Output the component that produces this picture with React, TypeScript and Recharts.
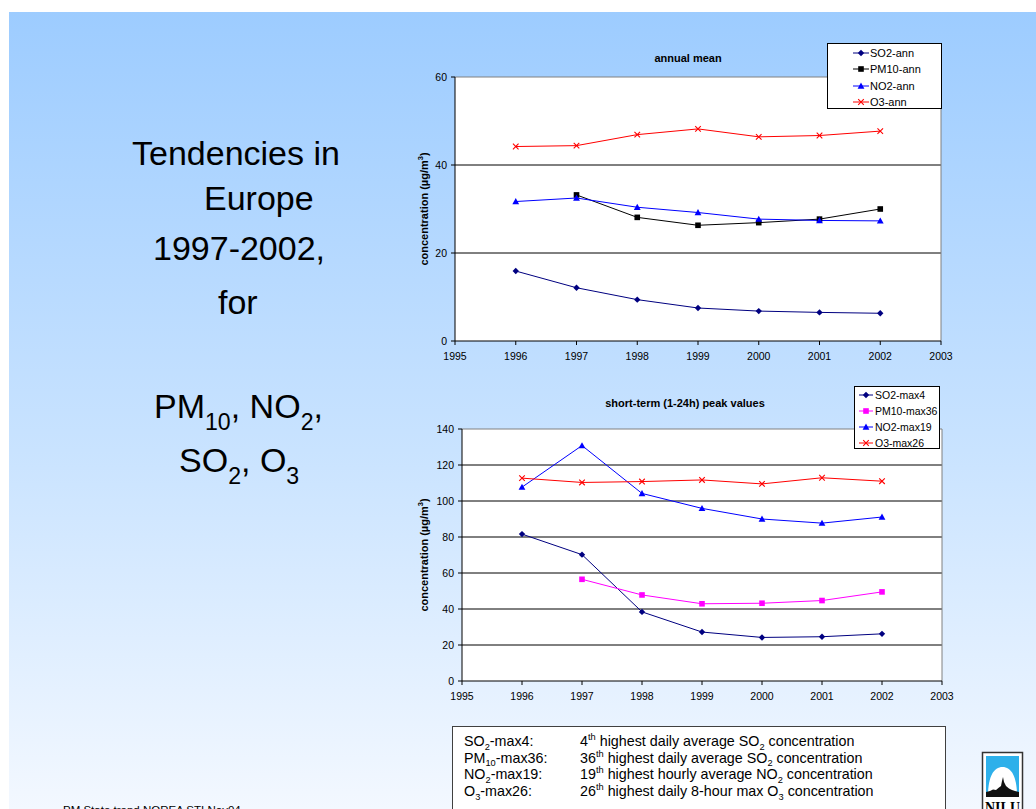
import React from 'react';
import { LineChart, Line, XAxis, YAxis, CartesianGrid, ReferenceLine, Legend } from 'recharts';

const FONT = "Arial, 'Liberation Sans', Helvetica, sans-serif";

// ---------- data ----------
const years = [1996, 1997, 1998, 1999, 2000, 2001, 2002];

const so2Ann = [15.9, 12.1, 9.4, 7.5, 6.8, 6.5, 6.3];
const pm10Ann: (number | null)[] = [null, 33.2, 28.1, 26.3, 26.9, 27.7, 30.0];
const no2Ann = [31.7, 32.5, 30.4, 29.2, 27.7, 27.4, 27.3];
const o3Ann = [44.2, 44.4, 46.9, 48.2, 46.4, 46.7, 47.7];

const so2Max4 = [81.6, 70.2, 38.4, 27.2, 24.2, 24.6, 26.2];
const pm10Max36: (number | null)[] = [null, 56.5, 47.8, 42.9, 43.2, 44.7, 49.5];
const no2Max19 = [107.7, 130.8, 104.2, 95.9, 90.0, 87.7, 91.1];
const o3Max26 = [112.7, 110.3, 110.8, 111.7, 109.5, 112.9, 111.0];

const xTicks = [1995, 1996, 1997, 1998, 1999, 2000, 2001, 2002, 2003];
const annTicks = [0, 20, 40, 60];
const peakTicks = [0, 20, 40, 60, 80, 100, 120, 140];

const annNames = ['SO2-ann', 'PM10-ann', 'NO2-ann', 'O3-ann'];
const peakNames = ['SO2-max4', 'PM10-max36', 'NO2-max19', 'O3-max26'];

type Shape = 'diamond' | 'square' | 'triangle' | 'cross';
type SeriesDef = { key: string; name: string; color: string; shape: Shape };

const annSeries: SeriesDef[] = [
  { key: 'so2', name: annNames[0], color: '#000080', shape: 'diamond' },
  { key: 'pm10', name: annNames[1], color: '#000000', shape: 'square' },
  { key: 'no2', name: annNames[2], color: '#0000ff', shape: 'triangle' },
  { key: 'o3', name: annNames[3], color: '#ff0000', shape: 'cross' },
];
const peakSeries: SeriesDef[] = [
  { key: 'so2', name: peakNames[0], color: '#000080', shape: 'diamond' },
  { key: 'pm10', name: peakNames[1], color: '#ff00ff', shape: 'square' },
  { key: 'no2', name: peakNames[2], color: '#0000ff', shape: 'triangle' },
  { key: 'o3', name: peakNames[3], color: '#ff0000', shape: 'cross' },
];

const annData = years.map((y, i) => ({ year: y, so2: so2Ann[i], pm10: pm10Ann[i], no2: no2Ann[i], o3: o3Ann[i] }));
const peakData = years.map((y, i) => ({ year: y, so2: so2Max4[i], pm10: pm10Max36[i], no2: no2Max19[i], o3: o3Max26[i] }));

// ---------- markers ----------
function markerEl(shape: Shape, color: string, cx: number, cy: number, k?: any) {
  if (shape === 'diamond') {
    const r = 3.2;
    return <path key={k} d={`M${cx},${cy - r}L${cx + r},${cy}L${cx},${cy + r}L${cx - r},${cy}Z`} fill={color} />;
  }
  if (shape === 'square') {
    const s = 2.8;
    return <rect key={k} x={cx - s} y={cy - s} width={s * 2} height={s * 2} fill={color} />;
  }
  if (shape === 'triangle') {
    const s = 3.4;
    return <path key={k} d={`M${cx},${cy - s}L${cx + s},${cy + s * 0.8}L${cx - s},${cy + s * 0.8}Z`} fill={color} />;
  }
  const c = 2.8;
  return (
    <path key={k} d={`M${cx - c},${cy - c}L${cx + c},${cy + c}M${cx - c},${cy + c}L${cx + c},${cy - c}`} stroke={color} strokeWidth={1.1} fill="none" />
  );
}

const makeDot = (s: SeriesDef) => (props: any) => {
  const { cx, cy, index } = props;
  if (cx == null || cy == null || Number.isNaN(cx) || Number.isNaN(cy) || props.value == null) {
    return <g key={`e-${s.key}-${index}`} />;
  }
  return markerEl(s.shape, s.color, cx, cy, `d-${s.key}-${index}`);
};

// ---------- legend ----------
const makeLegend = (series: SeriesDef[], fontSize: number, firstY: number, step: number, segX: number, segW: number, textX: number) => () => (
  <div
    style={{
      position: 'relative',
      width: '100%',
      height: '100%',
      boxSizing: 'border-box',
      border: '1px solid #000',
      background: '#fff',
      fontFamily: FONT,
      fontSize,
      color: '#000',
    }}
  >
    {series.map((s, i) => (
      <div key={s.key} style={{ position: 'absolute', left: 0, top: firstY + i * step - 8, height: 16, width: '100%' }}>
        <svg width={segX + segW + 2} height={16} style={{ position: 'absolute', left: 0, top: 0 }}>
          <line x1={segX} x2={segX + segW} y1={8} y2={8} stroke={s.color} strokeWidth={1} />
          {markerEl(s.shape, s.color, segX + segW / 2, 8)}
        </svg>
        <span style={{ position: 'absolute', left: textX, top: 0, lineHeight: '16px', whiteSpace: 'nowrap' }}>{s.name}</span>
      </div>
    ))}
  </div>
);

// ---------- y label ----------
const makeYLabel = (dx: number) => (props: any) => {
  const vb = props.viewBox || {};
  const x = (vb.x || 0) + dx;
  const y = (vb.y || 0) + (vb.height || 0) / 2;
  return (
    <text
      x={x}
      y={y}
      transform={`rotate(-90, ${x}, ${y})`}
      textAnchor="middle"
      dominantBaseline="central"
      fontFamily={FONT}
      fontSize={11}
      fontWeight="bold"
      fill="#000"
    >
      concentration (µg/m
      <tspan dy={-4} fontSize={7.5}>3</tspan>
      <tspan dy={4}>)</tspan>
    </text>
  );
};

// ---------- rich text helper ----------
type Seg = { t: string; k?: 'sup' | 'sub' };
function Rich({ x, y, size, segs, subScale = 0.65, subShift = 0.25, supShift = 0.42, anchor = 'start' }: any) {
  let cur = 0;
  return (
    <text x={x} y={y} fontSize={size} fontFamily={FONT} fill="#000" textAnchor={anchor}>
      {(segs as Seg[]).map((sg, i) => {
        const target = sg.k === 'sup' ? -size * supShift : sg.k === 'sub' ? size * subShift : 0;
        const dy = target - cur;
        cur = target;
        return (
          <tspan key={i} dy={dy} fontSize={sg.k ? size * subScale : size}>
            {sg.t}
          </tspan>
        );
      })}
    </text>
  );
}

const boxRows: { a: Seg[]; b: Seg[] }[] = [
  {
    a: [{ t: 'SO' }, { t: '2', k: 'sub' }, { t: '-max4:' }],
    b: [{ t: '4' }, { t: 'th', k: 'sup' }, { t: ' highest daily average SO' }, { t: '2', k: 'sub' }, { t: ' concentration' }],
  },
  {
    a: [{ t: 'PM' }, { t: '10', k: 'sub' }, { t: '-max36:' }],
    b: [{ t: '36' }, { t: 'th', k: 'sup' }, { t: ' highest daily average SO' }, { t: '2', k: 'sub' }, { t: ' concentration' }],
  },
  {
    a: [{ t: 'NO' }, { t: '2', k: 'sub' }, { t: '-max19:' }],
    b: [{ t: '19' }, { t: 'th', k: 'sup' }, { t: ' highest hourly average NO' }, { t: '2', k: 'sub' }, { t: ' concentration' }],
  },
  {
    a: [{ t: 'O' }, { t: '3', k: 'sub' }, { t: '-max26:' }],
    b: [{ t: '26' }, { t: 'th', k: 'sup' }, { t: ' highest daily 8-hour max O' }, { t: '3', k: 'sub' }, { t: ' concentration' }],
  },
];

// ---------- chart ----------
function TrendChart({
  data,
  series,
  yMax,
  yTicks,
  gridValues,
  margin,
  yAxisWidth,
  legendStyle,
  legendContent,
  yLabelDx,
}: any) {
  return (
    <LineChart width={560} height={330} data={data} margin={margin}>
      <CartesianGrid fill="#ffffff" stroke="#000000" vertical={false} horizontalValues={gridValues} />
      <XAxis
        dataKey="year"
        type="number"
        domain={[1995, 2003]}
        ticks={xTicks}
        interval={0}
        height={29}
        tickSize={4}
        tickMargin={8}
        axisLine={{ stroke: '#000' }}
        tickLine={{ stroke: '#000' }}
        tick={{ fontSize: 10.5, fill: '#000', fontFamily: FONT }}
      />
      <YAxis
        type="number"
        domain={[0, yMax]}
        ticks={yTicks}
        interval={0}
        width={yAxisWidth}
        tickSize={4}
        tickMargin={4}
        axisLine={{ stroke: '#000' }}
        tickLine={{ stroke: '#000' }}
        tick={{ fontSize: 10.5, fill: '#000', fontFamily: FONT }}
        label={{ content: makeYLabel(yLabelDx) }}
      />
      <ReferenceLine y={yMax} stroke="#808080" strokeWidth={1} />
      <ReferenceLine x={2003} stroke="#808080" strokeWidth={1} />
      {series.map((s: SeriesDef) => (
        <Line
          key={s.key}
          type="linear"
          dataKey={s.key}
          name={s.name}
          stroke={s.color}
          strokeWidth={1}
          dot={makeDot(s)}
          activeDot={false}
          isAnimationActive={false}
          connectNulls={false}
        />
      ))}
      <Legend layout="vertical" align="center" verticalAlign="middle" wrapperStyle={legendStyle} content={legendContent} />
    </LineChart>
  );
}

export default function App() {
  return (
    <div
      style={{
        position: 'fixed',
        left: 0,
        top: 0,
        width: 1036,
        height: 809,
        overflow: 'hidden',
        background: '#ffffff',
        fontFamily: FONT,
      }}
    >
      <div
        style={{
          position: 'absolute',
          left: 9,
          top: 12,
          right: 0,
          bottom: 0,
          background: 'linear-gradient(to bottom, #9dccff 0%, #c9e3ff 55%, #f3f8ff 100%)',
        }}
      />

      <svg width={1036} height={809} style={{ position: 'absolute', left: 0, top: 0 }}>
        {/* left title */}
        <text x={132} y={165} fontSize={34} fontFamily={FONT} fill="#000">Tendencies in</text>
        <text x={204} y={210} fontSize={34} fontFamily={FONT} fill="#000">Europe</text>
        <text x={153} y={260} fontSize={34} fontFamily={FONT} fill="#000">1997-2002,</text>
        <text x={218} y={314} fontSize={34} fontFamily={FONT} fill="#000">for</text>
        <Rich
          x={154}
          y={418}
          size={34}
          subScale={0.68}
          subShift={0.35}
          segs={[{ t: 'PM' }, { t: '10', k: 'sub' }, { t: ', NO' }, { t: '2', k: 'sub' }, { t: ',' }]}
        />
        <Rich
          x={179}
          y={472}
          size={34}
          subScale={0.68}
          subShift={0.35}
          segs={[{ t: 'SO' }, { t: '2', k: 'sub' }, { t: ', O' }, { t: '3', k: 'sub' }]}
        />

        {/* chart titles */}
        <text x={688} y={61.5} fontSize={11} fontWeight="bold" fontFamily={FONT} textAnchor="middle" fill="#000">
          annual mean
        </text>
        <text x={685} y={406.5} fontSize={11} fontWeight="bold" fontFamily={FONT} textAnchor="middle" fill="#000">
          short-term (1-24h) peak values
        </text>

        {/* explanation box */}
        <rect x={452.5} y={726.5} width={493} height={110} fill="#ffffff" stroke="#404040" strokeWidth={1} />
        {boxRows.map((r, i) => (
          <g key={i}>
            <Rich x={464} y={746 + i * 16.7} size={14.3} segs={r.a} />
            <Rich x={580} y={746 + i * 16.7} size={14.3} segs={r.b} />
          </g>
        ))}

        {/* footer */}
        <text x={63} y={813.5} fontSize={11.5} fontFamily={FONT} fill="#000">PM State trend NOREA STI  Nov04</text>

        {/* NILU logo */}
        <rect x={982.5} y={752.5} width={40} height={70} fill="#ffffff" stroke="#333333" strokeWidth={1.5} />
        <rect x={986} y={756} width={33} height={41} fill="#2eb0ea" />
        <path d="M988,796 C988,776 994,767 1002.5,767 C1011,767 1017,776 1017,796 Z" fill="#ffffff" />
        <path
          d="M986,797 L986,792 L990,791 L993,789.5 L996,790 L999,787.5 L1001,786 L1002,781 L1003,777 L1004,782 L1006,786 L1009,788.5 L1012,790 L1015,791 L1019,792 L1019,797 Z"
          fill="#111111"
        />
        <text
          x={1002.5}
          y={813}
          fontSize={16}
          fontWeight="bold"
          fontFamily="'Liberation Serif', 'DejaVu Serif', serif"
          textAnchor="middle"
          textLength={35}
          lengthAdjust="spacingAndGlyphs"
          fill="#000"
        >
          NILU
        </text>
      </svg>

      <div style={{ position: 'absolute', left: 400, top: 40 }}>
        <TrendChart
          data={annData}
          series={annSeries}
          yMax={60}
          yTicks={annTicks}
          gridValues={[20, 40]}
          margin={{ top: 37, right: 19, bottom: 0, left: 0 }}
          yAxisWidth={55}
          yLabelDx={24}
          legendStyle={{ left: 427, top: 3, width: 115, height: 66 }}
          legendContent={makeLegend(annSeries, 11, 9, 16.3, 25, 16, 42)}
        />
      </div>

      <div style={{ position: 'absolute', left: 400, top: 380 }}>
        <TrendChart
          data={peakData}
          series={peakSeries}
          yMax={140}
          yTicks={peakTicks}
          gridValues={[20, 40, 60, 80, 100, 120]}
          margin={{ top: 49, right: 18, bottom: 0, left: 0 }}
          yAxisWidth={62}
          yLabelDx={23.5}
          legendStyle={{ left: 454, top: 6, width: 86, height: 63 }}
          legendContent={makeLegend(peakSeries, 10.5, 8, 16, 4, 14, 20)}
        />
      </div>
    </div>
  );
}
